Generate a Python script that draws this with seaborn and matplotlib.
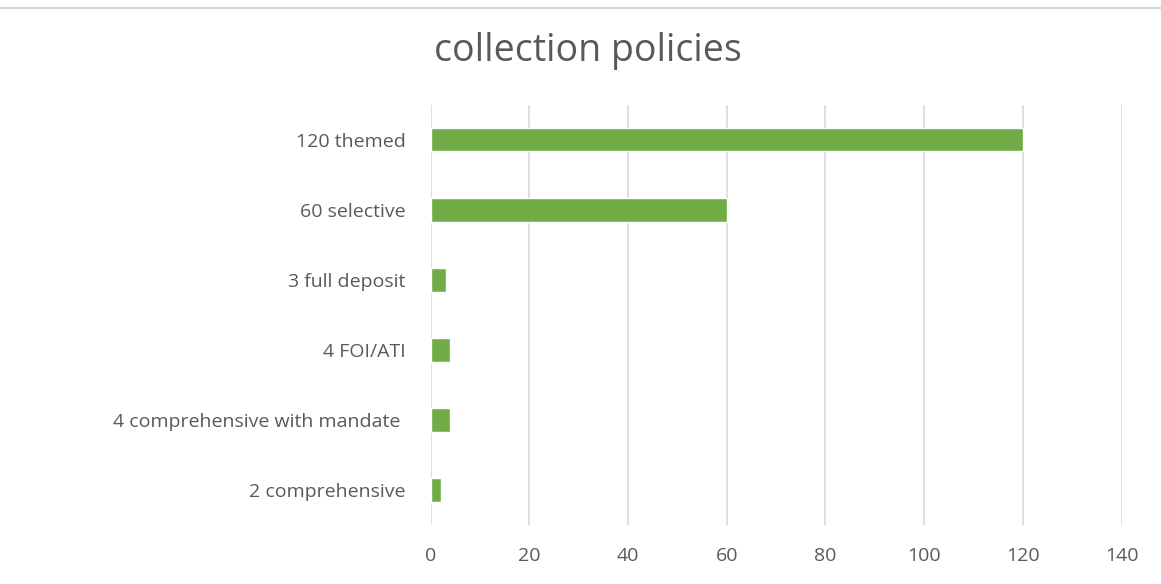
import matplotlib
matplotlib.use('Agg')
import matplotlib.pyplot as plt
import seaborn as sns
import pandas as pd
from matplotlib.lines import Line2D

# Data
categories = ['120 themed', '60 selective', '3 full deposit', '4 FOI/ATI',
              '4 comprehensive with mandate ', '2 comprehensive']
values = [120, 60, 3, 4, 4, 2]

df = pd.DataFrame({'policy': categories, 'count': values})

sns.set_style('white')
plt.rcParams['font.family'] = ['Open Sans', 'DejaVu Sans']

fig = plt.figure(figsize=(11.61, 5.84), dpi=100)
ax = fig.add_axes([0.371, 0.101, 0.595, 0.72])

sns.barplot(data=df, x='count', y='policy', color='#70AD47', width=0.34,
            saturation=1, ax=ax)

ax.set_xlim(0, 140)
ax.set_xticks(range(0, 141, 20))
ax.grid(axis='x', color='#D9D9D9', linewidth=1.2)
ax.set_axisbelow(True)
for s in ax.spines.values():
    s.set_visible(False)
ax.tick_params(axis='both', length=0, labelsize=14, labelcolor='#595959')
ax.tick_params(axis='x', pad=16)
ax.tick_params(axis='y', pad=18)
ax.set_xlabel('')
ax.set_ylabel('')

fig.text(0.506, 0.912, 'collection policies', ha='center', va='center',
         fontsize=27, color='#595959')

# thin border line at the top of the picture
fig.add_artist(Line2D([0, 1], [0.986, 0.986], color='#D9D9D9', linewidth=1.5,
                      transform=fig.transFigure))

fig.savefig('out.png', dpi=100, facecolor='white')
